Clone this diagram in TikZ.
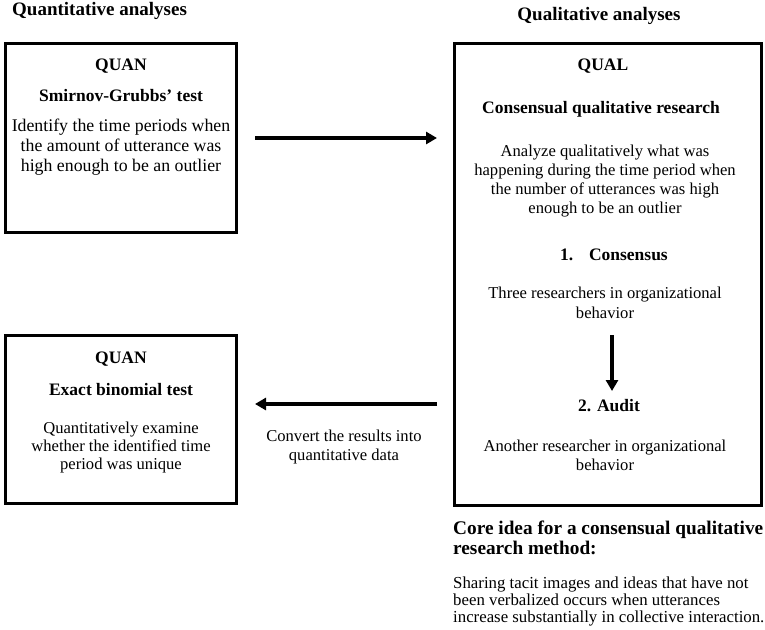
\documentclass[tikz,border=0pt]{standalone}
\usepackage{fontspec}
\setmainfont{Liberation Serif}
\usetikzlibrary{arrows.meta}
\begin{document}
\begin{tikzpicture}[x=1pt,y=-1pt,
  box/.style={draw=black,line width=3pt,inner sep=0pt},
  arr/.style={line width=3.5pt,-{Triangle[length=11pt,width=12pt]}},
  ttl/.style={font=\fontsize{19}{22}\selectfont\bfseries,anchor=base,inner sep=0pt},
  hd/.style={font=\fontsize{17.5}{20}\selectfont\bfseries,anchor=base,inner sep=0pt},
  bd/.style={font=\fontsize{16.8}{19.5}\selectfont,align=center,anchor=base,inner sep=0pt},
]
\useasboundingbox (0,0) rectangle (765,629);

% boxes
\node[box,minimum width=231pt,minimum height=189pt] (tl) at (121,138) {};
\node[box,minimum width=231pt,minimum height=168pt] (bl) at (121,419.5) {};
\node[box,minimum width=307pt,minimum height=462pt] (qual) at (608,274.5) {};

% titles
\node[ttl,anchor=base west] (t1) at (12,16) {Quantitative analyses};
\node[ttl] (t2) at (599,20) {Qualitative analyses};

% top-left box (multi-line nodes: base = last line's baseline)
\node[hd] (q1) at (121,70) {QUAN};
\node[hd] (sg) at (121,101) {Smirnov-Grubbs' test};
\node[bd,font=\fontsize{17.8}{19.7}\selectfont] (sgb) at (121,171) {Identify the time periods when\\the amount of utterance was\\high enough to be an outlier};

% bottom-left box
\node[hd] (q2) at (121,363) {QUAN};
\node[hd] (eb) at (121,395) {Exact binomial test};
\node[bd,font=\fontsize{16.6}{18}\selectfont] (ebb) at (121,469) {Quantitatively examine\\whether the identified time\\period was unique};

% right box
\node[hd] (ql) at (603,70) {QUAL};
\node[hd] (cqr) at (601,113) {Consensual qualitative research};
\node[bd,font=\fontsize{16.6}{19}\selectfont] (cqrb) at (605,213) {Analyze qualitatively what was\\happening during the time period when\\the number of utterances was high\\enough to be an outlier};
\node[hd] (cons) at (614,260) {1.\hspace{0.9em}Consensus};
\node[bd,font=\fontsize{16.6}{20}\selectfont] (consb) at (605,318) {Three researchers in organizational\\behavior};
\node[hd] (aud) at (609,411) {2. Audit};
\node[bd,font=\fontsize{16.6}{19}\selectfont] (audb) at (605,470) {Another researcher in organizational\\behavior};

% connector label
\node[bd,font=\fontsize{16.6}{19}\selectfont] (conv) at (344,460) {Convert the results into\\quantitative data};

% core idea
\node[font=\fontsize{19.3}{20}\selectfont\bfseries,align=left,anchor=base west,inner sep=0pt] (core) at (453,554) {Core idea for a consensual qualitative\\research method:};
\node[font=\fontsize{16.8}{17}\selectfont,align=left,anchor=base west,inner sep=0pt] (share) at (453,622) {Sharing tacit images and ideas that have not\\been verbalized occurs when utterances\\increase substantially in collective interaction.};

% arrows
\draw[arr,shorten <=17pt,shorten >=16pt] (tl.east) -- (tl.east -| qual.west);
\draw[arr,shorten <=16pt,shorten >=17pt] (qual.west |- 0,404) -- (bl.east |- 0,404);
\coordinate (v1) at (612,335);
\coordinate (v2) at (612,391);
\draw[arr] (v1) -- (v2);
\end{tikzpicture}
\end{document}
